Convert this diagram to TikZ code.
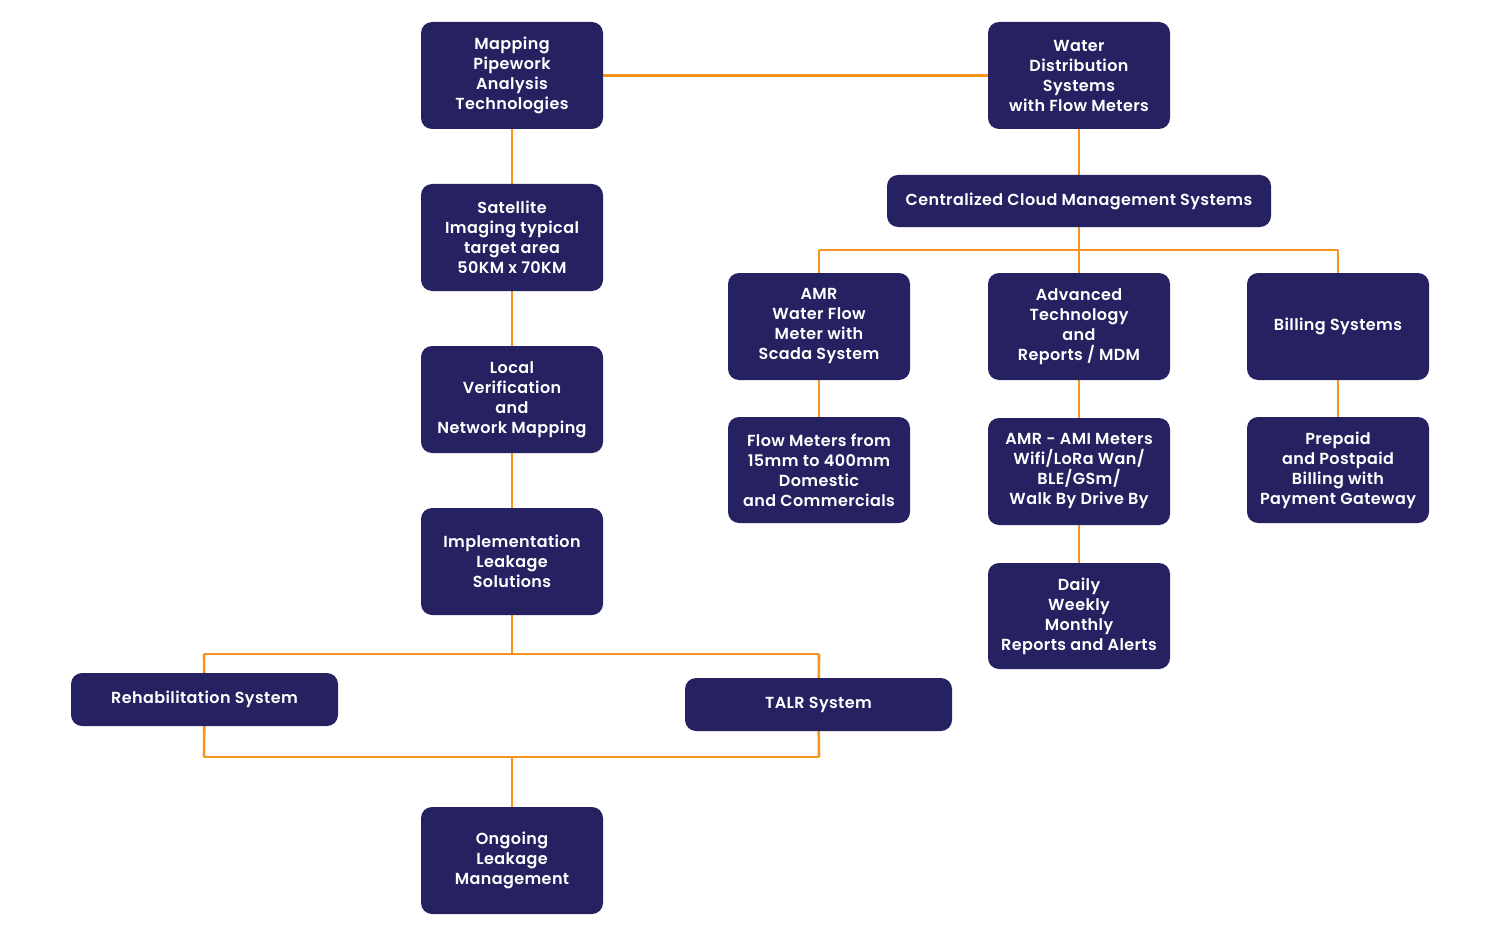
\documentclass[tikz,border=0pt]{standalone}
\usepackage{fontspec}
\setmainfont{Poppins}[BoldFont={Poppins SemiBold},BoldFeatures={LetterSpace=2.5}]
\usetikzlibrary{backgrounds}
\definecolor{navy}{HTML}{262262}
\definecolor{lineor}{HTML}{F7941D}
\begin{document}
\begin{tikzpicture}[x=1pt,y=-1pt,
  box/.style={draw=none,fill=navy,rounded corners=11pt,text=white,align=center,
    minimum width=182pt,minimum height=107pt,inner sep=2pt,
    font=\fontsize{16}{20}\selectfont\bfseries},
  widebox/.style={box,minimum width=267pt,minimum height=53pt},
  link/.style={draw=lineor,line width=2.6pt}]
\useasboundingbox (0,0) rectangle (1500,931);
% junction coordinates
\coordinate (j1) at (512,654);
\coordinate (j1l) at (204,654);
\coordinate (j1r) at (819,654);
\coordinate (j2) at (512,757);
\coordinate (j2l) at (204,757);
\coordinate (j2r) at (819,757);
\coordinate (j3) at (1079,250);
\coordinate (j3l) at (819,250);
\coordinate (j3r) at (1338,250);
% nodes
\node[box] (map) at (512,75.5) {Mapping\\Pipework\\Analysis\\Technologies};
\node[box] (sat) at (512,237.5) {Satellite\\Imaging typical\\target area\\50KM x 70KM};
\node[box] (loc) at (512,399.5) {Local\\Verification\\and\\Network Mapping};
\node[box] (imp) at (512,561.5) {Implementation\\Leakage\\Solutions};
\node[box] (ong) at (512,860.5) {Ongoing\\Leakage\\Management};
\node[widebox] (reh) at (204.5,699.5) {Rehabilitation System};
\node[widebox] (talr) at (818.5,704.5) {TALR System};
\node[box] (wat) at (1079,75.5) {Water\\Distribution\\Systems\\with Flow Meters};
\node[box,minimum width=384pt,minimum height=52pt] (cen) at (1079,201) {Centralized Cloud Management Systems};
\node[box] (amr) at (819,326.5) {AMR\\Water Flow\\Meter with\\Scada System};
\node[box] (adv) at (1079,326.5) {Advanced\\Technology\\and\\Reports / MDM};
\node[box] (bil) at (1338,326.5) {Billing Systems};
\node[box,minimum height=106pt] (flo) at (819,470) {Flow Meters from\\15mm to 400mm\\Domestic\\and Commercials};
\node[box] (ami) at (1079,471.5) {AMR - AMI Meters\\Wifi/LoRa Wan/\\BLE/GSm/\\Walk By Drive By};
\node[box,minimum height=106pt] (pre) at (1338,470) {Prepaid\\and Postpaid\\Billing with\\Payment Gateway};
\node[box,minimum height=106pt] (dai) at (1079,616) {Daily\\Weekly\\Monthly\\Reports and Alerts};
% connectors
\begin{scope}[on background layer]
\draw[link] (map.east) -- (wat.west);
\draw[link] (map.south) -- (sat.north);
\draw[link] (sat.south) -- (loc.north);
\draw[link] (loc.south) -- (imp.north);
\draw[link] (imp.south) -- (j1);
\draw[link] (j1l) -- (j1r);
\draw[link] (j1l) -- (reh.center);
\draw[link] (j1r) -- (talr.center);
\draw[link] (reh.center) -- (j2l);
\draw[link] (talr.center) -- (j2r);
\draw[link] (j2l) -- (j2r);
\draw[link] (j2) -- (ong.north);
\draw[link] (wat.south) -- (cen.north);
\draw[link] (cen.south) -- (adv.north);
\draw[link] (j3l) -- (j3r);
\draw[link] (j3l) -- (amr.north);
\draw[link] (j3r) -- (bil.north);
\draw[link] (amr.south) -- (flo.north);
\draw[link] (adv.south) -- (ami.north);
\draw[link] (ami.south) -- (dai.north);
\draw[link] (bil.south) -- (pre.north);
\end{scope}
\end{tikzpicture}
\end{document}
